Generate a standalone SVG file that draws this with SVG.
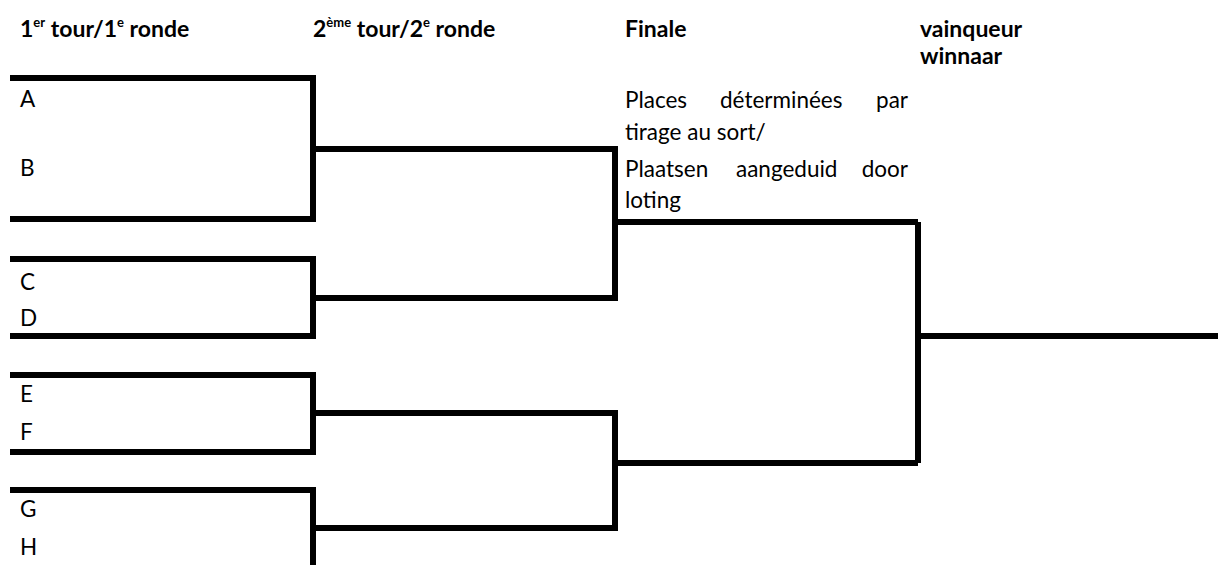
<svg xmlns="http://www.w3.org/2000/svg" width="1218" height="565" viewBox="0 0 1218 565">
<style>
.ln{fill:none;stroke:#000;stroke-width:6;stroke-linejoin:miter;stroke-linecap:butt}
.h{font-family:Lato,"Open Sans","Liberation Sans",sans-serif;font-weight:bold;font-size:23px;fill:#000}
.t{font-family:Lato,"Open Sans","Liberation Sans",sans-serif;font-size:22.5px;fill:#000}
.sup{font-size:13px}
</style>
<rect width="1218" height="565" fill="#fff"/>
<g id="headers">
<text class="h" x="20" y="37">1<tspan class="sup" dy="-10">er</tspan><tspan dy="10"> tour/1</tspan><tspan class="sup" dy="-10">e</tspan><tspan dy="10"> ronde</tspan></text>
<text class="h" x="313" y="37">2<tspan class="sup" dy="-10">ème</tspan><tspan dy="10"> tour/2</tspan><tspan class="sup" dy="-10">e</tspan><tspan dy="10"> ronde</tspan></text>
<text class="h" x="625" y="37">Finale</text>
<text class="h" x="920" y="37">vainqueur</text>
<text class="h" x="920" y="64">winnaar</text>
</g>
<g id="node-A"><text class="t" x="20" y="107">A</text></g>
<g id="node-B"><text class="t" x="20" y="176">B</text></g>
<g id="node-C"><text class="t" x="20" y="290">C</text></g>
<g id="node-D"><text class="t" x="20" y="326">D</text></g>
<g id="node-E"><text class="t" x="20" y="402">E</text></g>
<g id="node-F"><text class="t" x="20" y="440">F</text></g>
<g id="node-G"><text class="t" x="20" y="517">G</text></g>
<g id="node-H"><text class="t" x="20" y="555">H</text></g>
<g id="note">
<text class="t" y="108"><tspan x="625">Places</tspan><tspan x="720">déterminées</tspan><tspan x="908" text-anchor="end">par</tspan></text>
<text class="t" x="625" y="140">tirage au sort/</text>
<text class="t" y="177"><tspan x="625">Plaatsen</tspan><tspan x="736">aangeduid</tspan><tspan x="908" text-anchor="end">door</tspan></text>
<text class="t" x="625" y="208">loting</text>
</g>
<g id="connectors">
<path class="ln" d="M10 78H313V219H10"/>
<path class="ln" d="M10 259H313V336H10"/>
<path class="ln" d="M10 375H313V452H10"/>
<path class="ln" d="M10 490H313V565"/>
<path class="ln" d="M313 149H615V298H313"/>
<path class="ln" d="M313 413H615V528H313"/>
<path class="ln" d="M615 222H918"/>
<path class="ln" d="M615 463H918"/>
<path class="ln" d="M918 222V463"/>
<path class="ln" d="M918 336H1218"/>
</g>
</svg>
